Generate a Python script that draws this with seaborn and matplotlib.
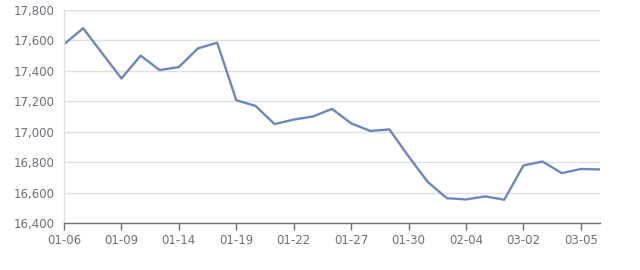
import matplotlib
matplotlib.use("Agg")
import matplotlib.pyplot as plt
import seaborn as sns
import pandas as pd
from matplotlib.ticker import FuncFormatter, FixedLocator

dates = ["01-06", "01-07", "01-08", "01-09", "01-10", "01-13", "01-14", "01-15",
         "01-16", "01-19", "01-20", "01-21", "01-22", "01-23", "01-24", "01-27",
         "01-28", "01-29", "01-30", "01-31", "02-03", "02-04", "02-05", "02-06",
         "03-02", "03-03", "03-04", "03-05", "03-06"]
prices = [17575, 17680, 17515, 17350, 17500, 17405, 17425, 17548,
          17585, 17207, 17170, 17050, 17080, 17100, 17150, 17055,
          17005, 17015, 16838, 16670, 16563, 16555, 16575, 16553,
          16778, 16804, 16728, 16755, 16752]
shown_labels = ["01-06", "01-09", "01-14", "01-19", "01-22", "01-27",
                "01-30", "02-04", "03-02", "03-05"]
y_ticks = [16400, 16600, 16800, 17000, 17200, 17400, 17600, 17800]

df = pd.DataFrame({"idx": range(len(dates)), "date": dates, "price": prices})

sns.set_theme(style="white")
plt.rcParams["font.family"] = ["DejaVu Sans"]

fig = plt.figure(figsize=(6.4, 2.7), dpi=100)
ax = fig.add_axes([64 / 640, 1 - 223 / 270, 536 / 640, 213 / 270])

sns.lineplot(data=df, x="idx", y="price", ax=ax, color="#6b87bf",
             linewidth=1.7, solid_joinstyle="round", solid_capstyle="round")

ax.set_xlim(0, len(dates) - 1)
ax.set_ylim(16400, 17800)
ax.yaxis.set_major_locator(FixedLocator(y_ticks))
ax.yaxis.set_major_formatter(FuncFormatter(lambda v, p: f"{int(v):,}"))

tick_pos = [dates.index(d) for d in shown_labels]
ax.set_xticks(tick_pos)
ax.set_xticklabels(shown_labels)

ax.set_xlabel("")
ax.set_ylabel("")
ax.grid(axis="y", color="#e0e0e0", linewidth=1)
ax.grid(axis="x", visible=False)

for s in ["top", "right"]:
    ax.spines[s].set_visible(False)
ax.spines["left"].set_color("#e0e0e0")
ax.spines["left"].set_linewidth(1)
ax.spines["bottom"].set_color("#6e7079")
ax.spines["bottom"].set_linewidth(1)

ax.tick_params(axis="x", direction="out", length=5, width=1, color="#6e7079",
               labelcolor="#6e7079", labelsize=8.5, pad=3, bottom=True)
ax.tick_params(axis="y", length=0, labelcolor="#6e7079", labelsize=8.5, pad=7)

fig.savefig("out.png", dpi=100, facecolor="white")
